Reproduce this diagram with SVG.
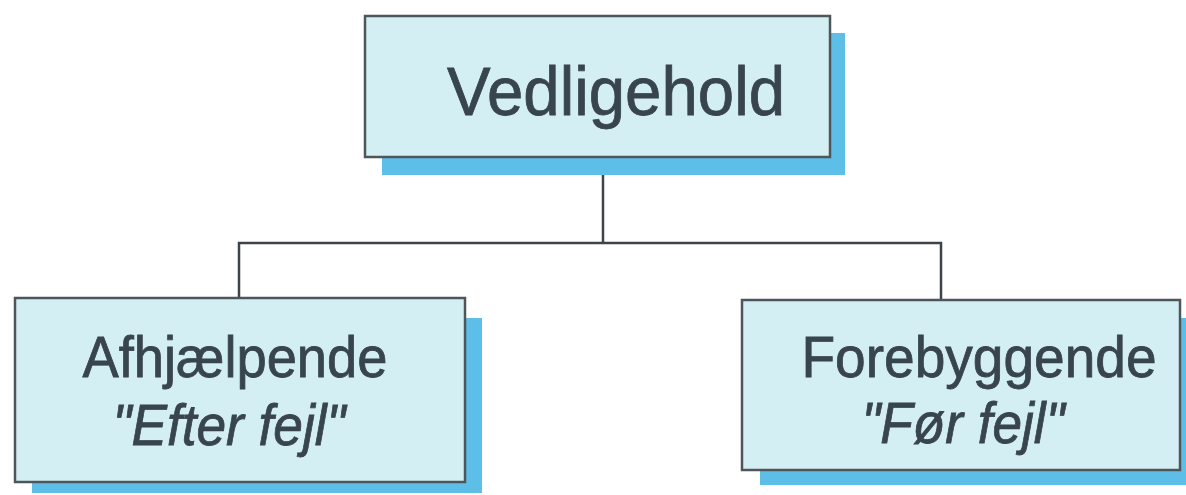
<svg xmlns="http://www.w3.org/2000/svg" width="1186" height="495" viewBox="0 0 1186 495">
<style>
.shadow{fill:#5dbfe8}
.box{fill:#d4eff4;stroke:#4d565b;stroke-width:2.5}
.t{font-family:"Liberation Sans",Arial,sans-serif;fill:#38454e;stroke:#38454e;stroke-width:0.8}
.it{font-style:italic}
.conn{fill:none;stroke:#3c4449;stroke-width:2.5}
</style>
<rect width="1186" height="495" fill="#ffffff"/>
<g id="connectors">
<path class="conn" d="M603 172 V243"/>
<path class="conn" d="M239 298 V243 H941 V300"/>
</g>
<g id="node-vedligehold">
<rect class="shadow" x="382" y="33" width="463" height="142"/>
<rect class="box" x="365" y="16" width="465" height="141"/>
<text class="t" x="616" y="115" font-size="68" text-anchor="middle" textLength="338" lengthAdjust="spacingAndGlyphs">Vedligehold</text>
</g>
<g id="node-afhjaelpende">
<rect class="shadow" x="32" y="318" width="450" height="175"/>
<rect class="box" x="15" y="298" width="450" height="184"/>
<text class="t" x="235" y="377" font-size="57" text-anchor="middle" textLength="305" lengthAdjust="spacingAndGlyphs">Afhjælpende</text>
<text class="t it" x="229" y="445" font-size="57" text-anchor="middle" textLength="233" lengthAdjust="spacingAndGlyphs">"Efter fejl"</text>
</g>
<g id="node-forebyggende">
<rect class="shadow" x="760" y="318" width="426" height="167"/>
<rect class="box" x="742" y="300" width="438" height="170"/>
<text class="t" x="979" y="377" font-size="57" text-anchor="middle" textLength="355" lengthAdjust="spacingAndGlyphs">Forebyggende</text>
<text class="t it" x="963" y="443" font-size="57" text-anchor="middle" textLength="203" lengthAdjust="spacingAndGlyphs">"Før fejl"</text>
</g>
</svg>
